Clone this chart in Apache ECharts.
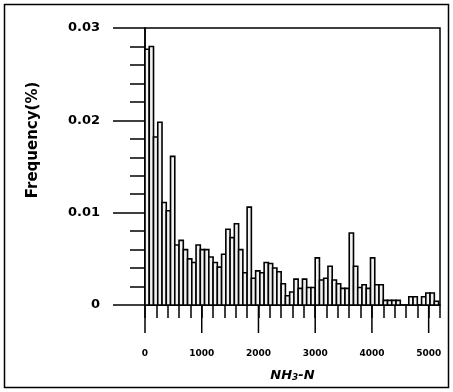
<!DOCTYPE html>
<html><head><meta charset="utf-8">
<script src="https://cdn.jsdelivr.net/npm/echarts@6/dist/echarts.min.js"></script>
<style>html,body{margin:0;padding:0;background:#fff}#c{width:453px;height:392px}</style>
</head><body><div id="c"></div>
<script>
// NH3-N histogram: bin width 75, values are frequency
const binWidth = 75;
const frequency = [
  0.0277, 0.0280, 0.0182, 0.0198, 0.0111, 0.0102, 0.0161, 0.0065, 0.0070, 0.0060,
  0.0050, 0.0046, 0.0065, 0.0060, 0.0060, 0.0052, 0.0046, 0.0041, 0.0055, 0.0082,
  0.0073, 0.0088, 0.0060, 0.0035, 0.0106, 0.0029, 0.0037, 0.0035, 0.0046, 0.0045,
  0.0040, 0.0036, 0.0023, 0.0010, 0.0014, 0.0028, 0.0018, 0.0028, 0.0019, 0.0019,
  0.0051, 0.0027, 0.0029, 0.0042, 0.0027, 0.0023, 0.0018, 0.0018, 0.0078, 0.0042,
  0.0019, 0.0022, 0.0018, 0.0051, 0.0022, 0.0022, 0.0005, 0.0005, 0.0005, 0.0005,
  0, 0, 0.0009, 0.0009, 0, 0.0009, 0.0013, 0.0013, 0.0004
];
const xMajorTicks = [0, 1000, 2000, 3000, 4000, 5000];
const yTickLabels = ['0', '0.01', '0.02', '0.03'];
const binStarts = frequency.map((_, i) => i * binWidth);

const FONT = 'DejaVu Sans';
const chart = echarts.init(document.getElementById('c'));
const option = {
  animation: false,
  backgroundColor: '#fff',
  grid: { left: 145, right: 13, top: 28, bottom: 87, show: true, borderColor: '#000', borderWidth: 1.5, backgroundColor: 'transparent' },
  graphic: [
    { type: 'rect', shape: { x: 4.5, y: 4.5, width: 444, height: 383 }, style: { fill: 'none', stroke: '#000', lineWidth: 1.5 }, z: 100 },
    { type: 'text', x: 33, y: 140, rotation: Math.PI / 2, style: { text: 'Frequency(%)', font: 'bold 15px "DejaVu Sans"', fill: '#000', textAlign: 'center', textVerticalAlign: 'middle' } }
  ],
  xAxis: {
    type: 'value', min: 0, max: 5200, interval: 200,
    axisLine: { lineStyle: { color: '#000', width: 1.5 } },
    axisTick: { length: 13, lineStyle: { color: '#000', width: 1.5 } },
    splitLine: { show: false },
    axisLabel: {
      margin: 44, color: '#000', fontFamily: FONT, fontWeight: 'bold', fontSize: 9,
      formatter: v => xMajorTicks.indexOf(Math.round(v)) >= 0 ? String(Math.round(v)) : ''
    },
    name: '{a|NH}{b|3}{a|-N}', nameLocation: 'middle', nameGap: 64,
    nameTextStyle: {
      rich: {
        a: { fontFamily: FONT, fontWeight: 'bold', fontStyle: 'italic', fontSize: 13, color: '#000' },
        b: { fontFamily: FONT, fontWeight: 'bold', fontStyle: 'italic', fontSize: 9, color: '#000', padding: [4, 0, 0, 0] }
      }
    }
  },
  yAxis: {
    type: 'value', min: 0, max: 0.03, interval: 0.01,
    axisLine: { lineStyle: { color: '#000', width: 1.5 } },
    axisTick: { length: 32, lineStyle: { color: '#000', width: 1.5 } },
    minorTick: { show: true, splitNumber: 5, length: 15, lineStyle: { color: '#000', width: 1.5 } },
    splitLine: { show: false },
    axisLabel: {
      margin: 45, color: '#000', fontFamily: FONT, fontWeight: 'bold', fontSize: 13,
      formatter: v => yTickLabels[Math.round(v * 100)]
    }
  },
  series: [
    {
      type: 'custom',
      data: binStarts.map((s, i) => [s, s + binWidth, frequency[i]]),
      encode: { x: [0, 1], y: 2 },
      renderItem: (params, api) => {
        const v = api.value(2);
        if (!v) return { type: 'group', children: [] };
        const p0 = api.coord([api.value(0), v]);
        const p1 = api.coord([api.value(1), 0]);
        return { type: 'rect', shape: { x: p0[0], y: p0[1], width: p1[0] - p0[0], height: p1[1] - p0[1] },
          style: { fill: '#f2f2f2', stroke: '#000', lineWidth: 1.6 } };
      }
    },
    {
      type: 'custom', clip: false, silent: true,
      data: xMajorTicks.map(v => [v, 0]),
      encode: { x: 0, y: 1 },
      renderItem: (params, api) => {
        const p = api.coord([api.value(0), 0]);
        return { type: 'line', shape: { x1: p[0], y1: p[1], x2: p[0], y2: p[1] + 28 }, style: { stroke: '#000', lineWidth: 1.5 } };
      }
    }
  ]
};
chart.setOption(option);
</script>
</body></html>
